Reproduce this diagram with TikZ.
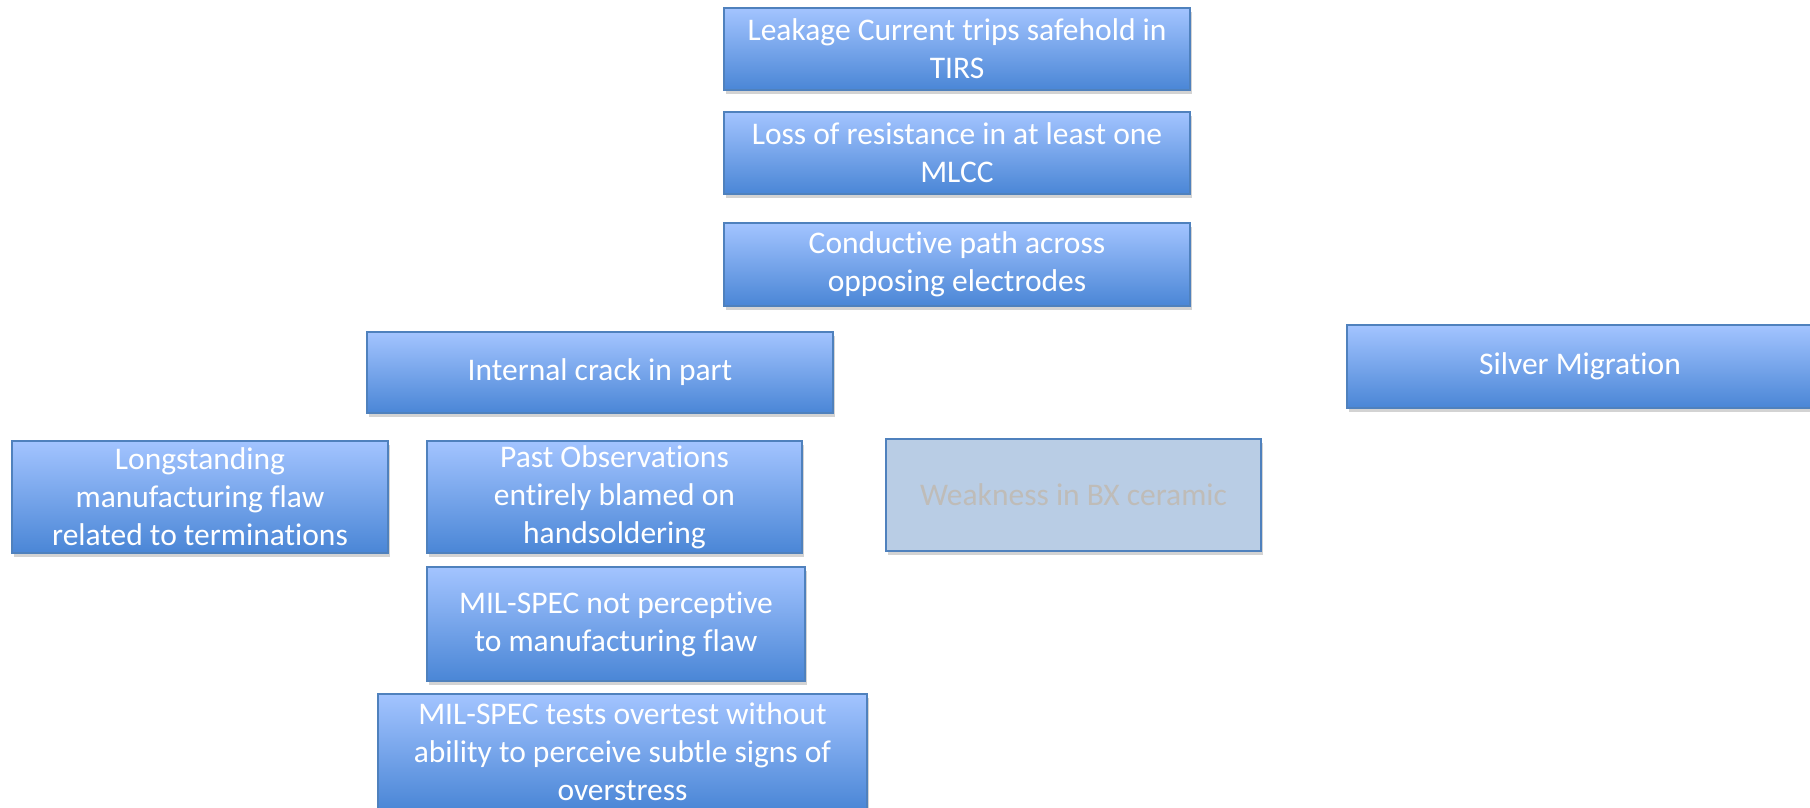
\documentclass[tikz,border=0pt]{standalone}
\usepackage{fontspec}
\setmainfont{Carlito}[Ligatures=NoCommon]
\usetikzlibrary{shadows}
\definecolor{boxtop}{HTML}{A3C4FF}
\definecolor{boxbot}{HTML}{4A86D6}
\definecolor{boxline}{HTML}{4F81BD}
\definecolor{fadefill}{HTML}{B9CDE5}
\definecolor{fadetext}{HTML}{BFBCB8}
\begin{document}
\begin{tikzpicture}[x=1pt,y=-1pt,
  cause/.style={rectangle, draw=boxline, line width=1.2pt, top color=boxtop, bottom color=boxbot,
    text=white, align=center, inner sep=0pt, font=\fontsize{31.5}{38}\selectfont,
    drop shadow={shadow xshift=2pt, shadow yshift=-4pt, opacity=0.35}},
  faded/.style={cause, top color=fadefill, bottom color=fadefill, text=fadetext}]
\useasboundingbox (0,0) rectangle (1810,808);
\node [cause, minimum width=466pt, minimum height=82pt] (leak) at (957,49) {Leakage Current trips safehold in\\TIRS};
\node [cause, minimum width=466pt, minimum height=82pt] (loss) at (957,153) {Loss of resistance in at least one\\MLCC};
\node [cause, minimum width=466pt, minimum height=83pt] (path) at (957,264.5) {Conductive path across\\opposing electrodes};
\node [cause, minimum width=466pt, minimum height=81pt] (crack) at (600,372.5) {Internal crack in part};
\node [cause, minimum width=466pt, minimum height=83pt] (silver) at (1580,366.5) {Silver Migration};
\node [cause, minimum width=376pt, minimum height=112pt] (flaw) at (200,497) {Longstanding\\manufacturing flaw\\related to terminations};
\node [cause, minimum width=375pt, minimum height=112pt] (past) at (614.5,497) {Past Observations\\entirely blamed on\\handsoldering};
\node [faded, minimum width=375pt, minimum height=112pt] (bx) at (1073.5,495) {Weakness in BX ceramic};
\node [cause, minimum width=378pt, minimum height=114pt] (milspec) at (616,624) {MIL-SPEC not perceptive\\to manufacturing flaw};
\node [cause, minimum width=489pt, minimum height=116pt] (overtest) at (622.5,752) {MIL-SPEC tests overtest without\\ability to perceive subtle signs of\\overstress};
\end{tikzpicture}
\end{document}
